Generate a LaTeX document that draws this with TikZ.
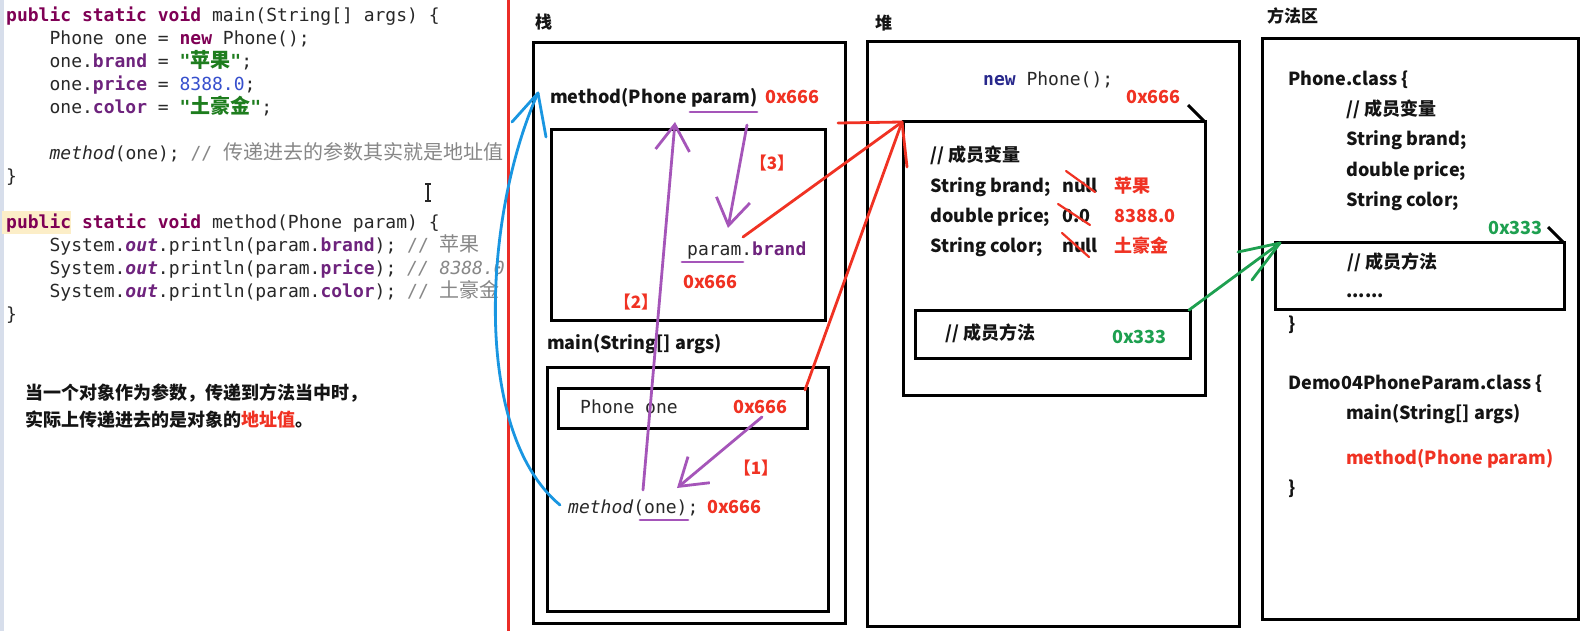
\documentclass[tikz,border=0pt]{standalone}
\usepackage{fontspec}
\setmainfont{Noto Sans CJK SC}
\setmonofont{DejaVu Sans Mono}
\newfontfamily\cjk{Noto Sans CJK SC}
\usetikzlibrary{arrows.meta}
\definecolor{redc}{RGB}{240,50,35}
\definecolor{sepred}{RGB}{235,45,40}
\definecolor{grn}{RGB}{30,160,80}
\definecolor{purp}{RGB}{165,85,185}
\definecolor{blu}{RGB}{25,150,225}
\definecolor{kwc}{RGB}{127,0,85}
\definecolor{fldc}{RGB}{110,35,125}
\definecolor{strc}{RGB}{30,125,30}
\definecolor{numc}{RGB}{55,80,205}
\definecolor{cmtc}{RGB}{135,135,135}
\definecolor{txtc}{RGB}{20,20,20}
\definecolor{codec}{RGB}{40,40,40}
\definecolor{newc}{RGB}{40,40,140}
\definecolor{hlc}{RGB}{252,238,200}
\definecolor{barc}{RGB}{215,222,235}
\newcommand\kwd[1]{\textcolor{kwc}{\bfseries #1}}
\newcommand\fldn[1]{\textcolor{fldc}{\bfseries #1}}
\newcommand\outn[1]{\textcolor{fldc}{\bfseries\itshape #1}}
\newcommand\strn[1]{\textcolor{strc}{\bfseries #1}}
\newcommand\numn[1]{\textcolor{numc}{#1}}
\newcommand\cmtn[1]{\textcolor{cmtc}{#1}}
\newcommand\zh[1]{{\cjk\fontsize{20}{20}\selectfont #1}}
\tikzset{
  code/.style={anchor=base west, inner sep=0pt, font=\ttfamily\fontsize{18}{20}\selectfont, text=codec},
  lbl/.style={anchor=base west, inner sep=0pt, font=\bfseries\fontsize{18}{20}\selectfont, text=txtc},
  addr/.style={lbl, text=redc},
  gaddr/.style={lbl, text=grn},
  area/.style={anchor=base west, inner sep=0pt, font=\bfseries\fontsize{17}{20}\selectfont, text=txtc},
  step num/.style={anchor=center, inner sep=0pt, font=\bfseries\fontsize{17}{20}\selectfont, text=redc},
  note/.style={anchor=base west, inner sep=0pt, font=\bfseries\fontsize{18}{20}\selectfont, text=txtc},
  frame/.style={draw=black, line width=3pt, anchor=north west, inner sep=0pt, outer sep=0pt},
  pline/.style={draw=purp, line width=2.8pt, line cap=round},
  parrow/.style={pline, -{Straight Barb[length=26pt,width=34pt]}},
  rline/.style={draw=redc, line width=2.8pt, line cap=round},
  gline/.style={draw=grn, line width=2.8pt, line cap=round},
  bline/.style={draw=blu, line width=2.8pt, line cap=round},
}
\begin{document}
\begin{tikzpicture}[x=1pt,y=-1pt]
\useasboundingbox (0,0) rectangle (1591,631);
\fill[white] (0,0) rectangle (1591,631);
\fill[barc] (0,0) rectangle (4,631);
% ---------------- code ----------------
\fill[hlc] (2,211) rectangle (71,234);
\node[code] (c0) at (6,21.5) {\kwd{public static void} main(String[] args) \{};
\node[code] (c1) at (49.4,44.5) {Phone one = \kwd{new} Phone();};
\node[code] (c2) at (49.4,67.5) {one.\fldn{brand} = \strn{"\zh{苹果}"};};
\node[code] (c3) at (49.4,90.5) {one.\fldn{price} = \numn{8388.0};};
\node[code] (c4) at (49.4,113.5) {one.\fldn{color} = \strn{"\zh{土豪金}"};};
\node[code] (c6) at (49.4,159.5) {\textit{method}(one); \cmtn{// \zh{传递进去的参数其实就是地址值}}};
\node[code] (c7) at (6,182.5) {\}};
\node[code] (c9) at (6,228.5) {\kwd{public static void} method(Phone param) \{};
\node[code] (c10) at (49.4,251.5) {System.\outn{out}.println(param.\fldn{brand}); \cmtn{// \zh{苹果}}};
\node[code] (c11) at (49.4,274.5) {System.\outn{out}.println(param.\fldn{price}); \cmtn{\itshape // 8388.0}};
\node[code] (c12) at (49.4,297.5) {System.\outn{out}.println(param.\fldn{color}); \cmtn{// \zh{土豪金}}};
\node[code] (c13) at (6,320.5) {\}};
% text cursor
\draw[codec, line width=1.2pt] (428,184) -- (428,201) (425,184) -- (431,184) (425,201) -- (431,201);
% note
\node[note] (n1) at (25,399) {当一个对象作为参数，传递到方法当中时，};
\node[note] (n2) at (25,426) {实际上传递进去的是对象的\textcolor{redc}{地址值}。};
% separator
\draw[sepred, line width=3pt] (508,0) -- (508,631);
% ---------------- stack ----------------
\node[area] (lstack) at (535,28.5) {栈};
\node[frame, minimum width=312pt, minimum height=580pt] (stack) at (533,43) {};
\node[frame, minimum width=274pt, minimum height=190pt] (mbox) at (551,130) {};
\node[frame, minimum width=281pt, minimum height=244pt] (mainbox) at (547,367) {};
\node[frame, minimum width=249pt, minimum height=40pt] (pone) at (558,388) {};
\node[lbl] (mp) at (550,104) {method(Phone param)};
\node[addr] (mpa) at (765,104) {0x666};
\node[lbl] (mainl) at (547,349) {main(String[] args)};
\node[code] (ponet) at (580,413) {Phone one};
\node[addr] (poa) at (733,413) {0x666};
\node[code] (mo) at (568,513) {\textit{method}(one);};
\node[addr] (moa) at (707,513) {0x666};
\node[code] (pb) at (687,256) {param.\fldn{brand}};
\node[addr] (pba) at (683,288) {0x666};
\node[step num] (s1) at (756,468) {【1】};
\node[step num] (s2) at (636,302) {【2】};
\node[step num] (s3) at (772,163) {【3】};
% ---------------- heap ----------------
\node[area] (lheap) at (875,29.5) {堆};
\node[frame, minimum width=372pt, minimum height=584pt] (heap) at (867,42) {};
\node[frame, minimum width=302pt, minimum height=273pt] (obj) at (903,122) {};
\node[frame, minimum width=275pt, minimum height=48pt] (hmeth) at (915,310) {};
\node[code] (np) at (983,86) {\textcolor{newc}{\bfseries new} Phone();};
\node[addr] (npa) at (1126,104) {0x666};
\draw[line width=3pt] (obj.north east) -- ++(-17,-17);
\node[lbl] (hv) at (930,162) {// 成员变量};
\node[lbl] (hb) at (930,193) {String brand;};
\node[lbl] (hbn) at (1062,193) {null};
\node[addr] (hbv) at (1114,193) {苹果};
\node[lbl] (hp) at (930,223) {double price;};
\node[lbl] (hpn) at (1062,223) {0.0};
\node[addr] (hpv) at (1114,223) {8388.0};
\node[lbl] (hc) at (930,253) {String color;};
\node[lbl] (hcn) at (1062,253) {null};
\node[addr] (hcv) at (1114,253) {土豪金};
\draw[rline, line width=2.2pt] (1066,171) -- (1095,192);
\draw[rline, line width=2.2pt] (1058,204) -- (1090,225);
\draw[rline, line width=2.2pt] (1062,233) -- (1089,257);
\node[lbl] (hm) at (945,339) {// 成员方法};
\node[gaddr] (hma) at (1112,343) {0x333};
% ---------------- method area ----------------
\node[area] (lmeth) at (1267,22.5) {方法区};
\node[frame, minimum width=316pt, minimum height=580pt] (marea) at (1262,39) {};
\node[frame, minimum width=289pt, minimum height=66pt] (mmeth) at (1275,243) {};
\draw[line width=3pt] (mmeth.north east) -- ++(-16,-16);
\node[lbl] (pc) at (1288,86) {Phone.class \{};
\node[lbl] (mv) at (1346,116) {// 成员变量};
\node[lbl] (ms1) at (1346,146) {String brand;};
\node[lbl] (ms2) at (1346,177) {double price;};
\node[lbl] (ms3) at (1346,207) {String color;};
\node[gaddr] (ma) at (1488,235) {0x333};
\node[lbl] (mm) at (1347,269) {// 成员方法};
\node[lbl] (md) at (1346,298) {......};
\node[lbl] (mc1) at (1288,330) {\}};
\node[lbl] (dc) at (1288,389) {Demo04PhoneParam.class \{};
\node[lbl] (dm) at (1346,419) {main(String[] args)};
\node[addr] (dmp) at (1346,464) {method(Phone param)};
\node[lbl] (mc2) at (1288,494) {\}};
% ---------------- connectors ----------------
\coordinate (u1a) at (690,112); \coordinate (u1b) at (757,112);
\coordinate (u2a) at (682,262); \coordinate (u2b) at (743,262);
\coordinate (u3a) at (640,520); \coordinate (u3b) at (688,520);
\draw[pline] (u1a) -- (u1b);
\draw[pline] (u2a) -- (u2b);
\draw[pline] (u3a) -- (u3b);
\coordinate (a1s) at (762,417); \coordinate (a1e) at (677,488);
\coordinate (a2s) at (643,490); \coordinate (a2e) at (675,122);
\coordinate (a3s) at (747,125); \coordinate (a3e) at (728,228);
\draw[parrow] (a1s) -- (a1e);
\draw[parrow] (a2s) -- (a2e);
\draw[parrow] (a3s) -- (a3e);
% blue
\coordinate (bs) at (560,505); \coordinate (be) at (538,93);
\draw[bline] (bs) .. controls (470,430) and (485,210) .. (be);
\draw[bline] (be) -- (512,122);
\draw[bline] (be) -- (546,137);
% red
\coordinate (rs1) at (743,237); \coordinate (rs2) at (805,390); \coordinate (re) at (902,122);
\draw[rline] (rs1) -- (re);
\draw[rline] (rs2) -- (re);
\draw[rline] (re) -- (838,123);
\draw[rline] (re) -- (907,167);
% green
\coordinate (gs) at (1189,310); \coordinate (ge) at (1280,243);
\draw[gline] (gs) -- (ge);
\draw[gline] (ge) -- (1238,252);
\draw[gline] (ge) -- (1252,280);
\end{tikzpicture}
\end{document}
